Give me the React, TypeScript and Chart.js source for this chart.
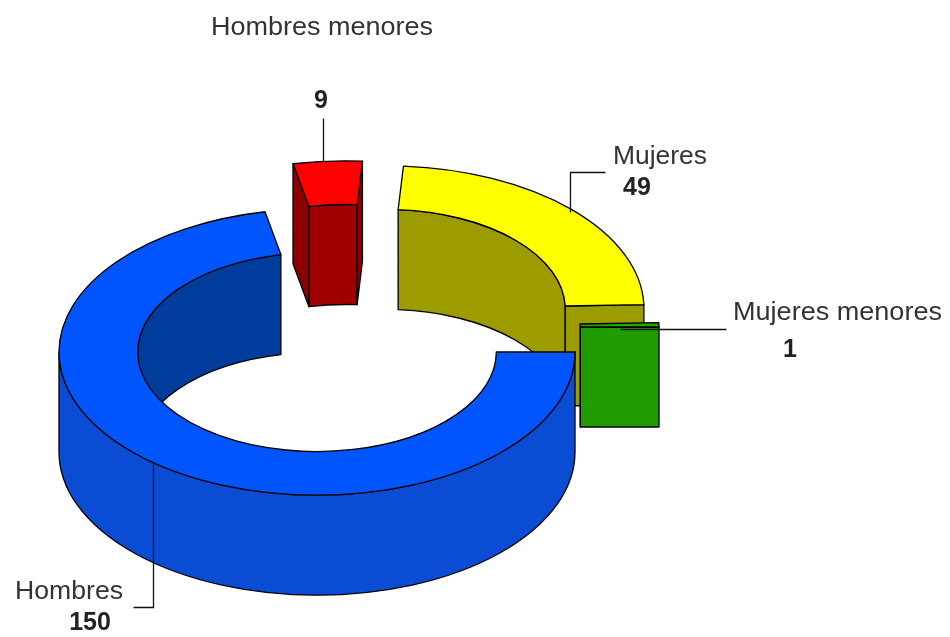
import React, { useEffect, useRef } from "react";
import { Chart, registerables } from "chart.js";

Chart.register(...registerables);

const categories = ["Hombres", "Hombres menores", "Mujeres", "Mujeres menores"];
const values = [150, 9, 49, 1];
const topColors = ["#0055ff", "#ff0000", "#ffff00", "#27a300"];
const innerWallColors = ["#003c9b", "#a00000", "#9c9c00", "#1c8000"];
const capColors = ["#003c9b", "#8e0000", "#9c9c00", "#219c00"];
const outerWallColors = ["#0a4cd4", "#b00000", "#b0b000", "#219c00"];

// 3D projection of the flat doughnut: the ring is squashed and extruded
const TILT = 0.555;
const DEPTH = 100;
const PAINT_ORDER = [1, 2, 0, 3];
const SLICE_SHIFT = [
  { dx: 0, dy: 0 },
  { dx: 28, dy: -48 },
  { dx: 69, dy: -43 },
  { dx: 84, dy: -25 },
];

const FONT = '"Liberation Sans", Arial, sans-serif';
const LABEL_BOXES = [
  { left: 15, right: 123, base: 599, valueX: 90, valueBase: 630 },
  { left: 211, right: 433, base: 35, valueX: 321, valueBase: 108 },
  { left: 613, right: 707, base: 164, valueX: 637, valueBase: 195 },
  { left: 733, right: 942, base: 320, valueX: 790, valueBase: 357 },
];
const LEADERS = [
  [[153, 463], [153, 607], [133, 607]],
  [[323, 118], [323, 161]],
  [[605, 172], [570, 172], [570, 212]],
  [[726, 329], [620, 329]],
];

const TAU = Math.PI * 2;

function wallPath(ctx: CanvasRenderingContext2D, x: number, y: number, r: number, a: number, b: number) {
  ctx.beginPath();
  ctx.ellipse(x, y, r, r * TILT, 0, a, b, false);
  ctx.ellipse(x, y + DEPTH, r, r * TILT, 0, b, a, true);
  ctx.closePath();
}

function paint(ctx: CanvasRenderingContext2D, fill: string) {
  ctx.fillStyle = fill;
  ctx.fill();
  ctx.stroke();
}

// Part of [a, b] that lies in the half-turn starting at `from`
function overlaps(a: number, b: number, from: number): [number, number][] {
  const out: [number, number][] = [];
  for (let k = -2; k <= 2; k++) {
    const lo = from + k * TAU;
    const s = Math.max(a, lo);
    const e = Math.min(b, lo + Math.PI);
    if (e > s) out.push([s, e]);
  }
  return out;
}

const ring3d = {
  id: "ring3d",
  beforeDatasetsDraw(chart: any) {
    const ctx: CanvasRenderingContext2D = chart.ctx;
    const arcs = chart.getDatasetMeta(0).data;
    ctx.save();
    ctx.strokeStyle = "#000";
    ctx.lineWidth = 1.3;
    ctx.lineJoin = "round";
    for (const i of PAINT_ORDER) {
      const p = arcs[i].getProps(["x", "y", "startAngle", "endAngle", "innerRadius", "outerRadius"]);
      const x = p.x + SLICE_SHIFT[i].dx;
      const y = p.y + SLICE_SHIFT[i].dy;
      const a = p.startAngle;
      const b = p.endAngle;
      const ri = p.innerRadius;
      const ro = p.outerRadius;
      // inner wall: seen only on the far half
      for (const [s, e] of overlaps(a, b, Math.PI)) {
        wallPath(ctx, x, y, ri, s, e);
        paint(ctx, innerWallColors[i]);
      }
      // end faces that turn toward the viewer
      const caps: number[] = [];
      if (Math.cos(a) < 0) caps.push(a);
      if (Math.cos(b) > 0) caps.push(b);
      for (const t of caps) {
        const c = Math.cos(t);
        const s = Math.sin(t) * TILT;
        ctx.beginPath();
        ctx.moveTo(x + ri * c, y + ri * s);
        ctx.lineTo(x + ro * c, y + ro * s);
        ctx.lineTo(x + ro * c, y + ro * s + DEPTH);
        ctx.lineTo(x + ri * c, y + ri * s + DEPTH);
        ctx.closePath();
        paint(ctx, capColors[i]);
      }
      // outer wall: seen only on the near half
      for (const [s, e] of overlaps(a, b, 0)) {
        wallPath(ctx, x, y, ro, s, e);
        paint(ctx, outerWallColors[i]);
      }
      // top face
      ctx.beginPath();
      ctx.ellipse(x, y, ro, ro * TILT, 0, a, b, false);
      ctx.ellipse(x, y, ri, ri * TILT, 0, b, a, true);
      ctx.closePath();
      paint(ctx, topColors[i]);
    }
    ctx.restore();
    return false;
  },
  afterDraw(chart: any) {
    const ctx: CanvasRenderingContext2D = chart.ctx;
    ctx.save();
    ctx.strokeStyle = "#111";
    ctx.lineWidth = 1.3;
    for (const pts of LEADERS) {
      ctx.beginPath();
      pts.forEach(([px, py], n) => (n ? ctx.lineTo(px + 0.5, py + 0.5) : ctx.moveTo(px + 0.5, py + 0.5)));
      ctx.stroke();
    }
    ctx.textBaseline = "alphabetic";
    categories.forEach((name, i) => {
      const box = LABEL_BOXES[i];
      ctx.fillStyle = "#333";
      ctx.font = `25px ${FONT}`;
      ctx.textAlign = "left";
      const natural = ctx.measureText(name).width;
      ctx.save();
      ctx.translate(box.left, box.base);
      ctx.scale((box.right - box.left) / natural, 1);
      ctx.fillText(name, 0, 0);
      ctx.restore();
      ctx.fillStyle = "#222";
      ctx.font = `bold 25px ${FONT}`;
      ctx.textAlign = "center";
      ctx.fillText(String(values[i]), box.valueX, box.valueBase);
    });
    ctx.restore();
  },
};

export default function App() {
  const ref = useRef<HTMLCanvasElement>(null);
  useEffect(() => {
    const chart = new Chart(ref.current as HTMLCanvasElement, {
      type: "doughnut",
      data: {
        labels: categories,
        datasets: [{ data: values, backgroundColor: topColors, borderWidth: 0 }],
      },
      options: {
        animation: false,
        responsive: false,
        rotation: 90,
        radius: 258,
        cutout: "69.5%",
        layout: { padding: { right: 316, top: 67 } },
        plugins: { legend: { display: false }, tooltip: { enabled: false } },
      },
      plugins: [ring3d],
    } as any);
    return () => chart.destroy();
  }, []);
  return (
    <div style={{ position: "absolute", left: 0, top: 0, width: 950, height: 637, background: "#fff" }}>
      <canvas ref={ref} width={950} height={637} style={{ display: "block" }} />
    </div>
  );
}
